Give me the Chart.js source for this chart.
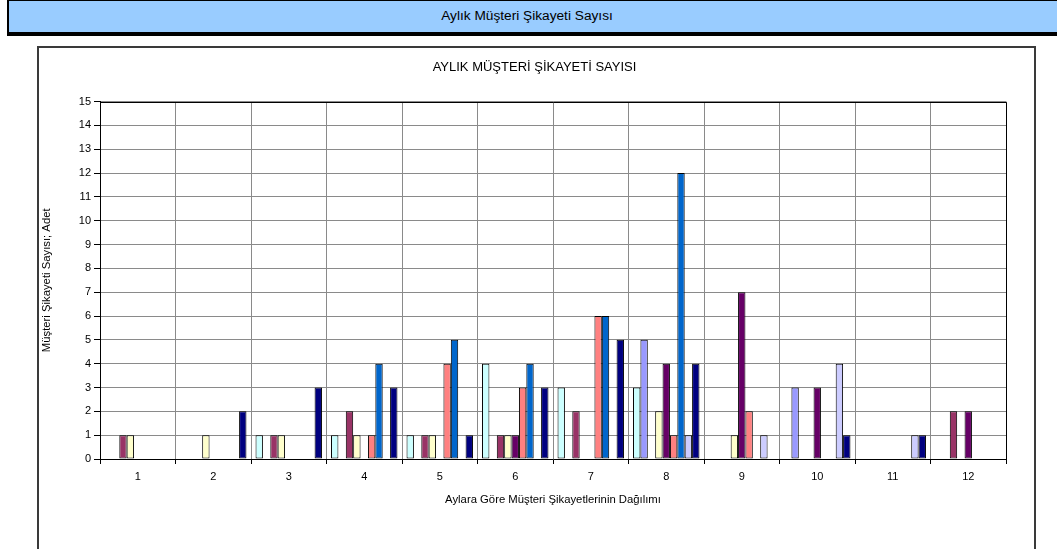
<!DOCTYPE html>
<html>
<head>
<meta charset="utf-8">
<script src="https://cdn.jsdelivr.net/npm/chart.js@4/dist/chart.umd.min.js"></script>
<style>
  html, body { margin: 0; padding: 0; background: #ffffff; }
  body { width: 1057px; height: 549px; position: relative; overflow: hidden; font-family: "Liberation Sans", Arial, sans-serif; }
  #hdr { position: absolute; left: 7px; top: 0px; width: 1060px; height: 31px; background: #99CCFF;
         border-left: 2px solid #000; border-top: 1px solid #000; border-bottom: 4px solid #000;
         box-sizing: content-box; font-size: 12px; color: #000; }
  #hdr span { position: absolute; left: 518px; top: 0; line-height: 31px; white-space: nowrap;
              transform: translateX(-50%) scaleX(1.14); }
  #box { position: absolute; left: 37px; top: 46px; width: 995px; height: 600px; border: 2px solid #3a3a3a; background: #fff; }
  #c { position: absolute; left: 0; top: 0; }
</style>
</head>
<body>
<div id="hdr"><span>Aylık Müşteri Şikayeti Sayısı</span></div>
<div id="box"></div>
<canvas id="c" width="1057" height="549"></canvas>
<script>
// Categories (months)
const months = ['1','2','3','4','5','6','7','8','9','10','11','12'];
// Series values (complaint counts per month)
const seri1 = [0,0,1,1,1,4,3,3,0,0,0,0];
const seri2 = [0,0,0,0,0,0,0,5,0,3,0,0];
const seri3 = [1,0,1,2,1,1,2,0,0,0,0,2];
const seri4 = [1,1,1,1,1,1,0,2,1,0,0,0];
const seri5 = [0,0,0,0,0,1,0,4,7,3,0,2];
const seri6 = [0,0,0,1,4,3,6,1,2,0,0,0];
const seri7 = [0,0,0,4,5,4,6,12,0,0,0,0];
const seri8 = [0,0,0,0,0,0,0,1,1,4,1,0];
const seri9 = [0,2,3,3,1,3,5,4,0,1,1,0];
const seriesNames = ['Seri 1','Seri 2','Seri 3','Seri 4','Seri 5','Seri 6','Seri 7','Seri 8','Seri 9'];
const seriesValues = [seri1, seri2, seri3, seri4, seri5, seri6, seri7, seri8, seri9];
const seriesColors = ['#CCFFFF','#9999FF','#993366','#FFFFCC','#660066','#FF8080','#0066CC','#CCCCFF','#000080'];
const yTicksMax = 15;

const FONT = '"Liberation Sans", Arial, sans-serif';

const plotBorder = {
  id: 'plotBorder',
  afterDatasetsDraw(chart) {
    const a = chart.chartArea, ctx = chart.ctx;
    ctx.save();
    ctx.strokeStyle = '#000';
    ctx.lineWidth = 1;
    ctx.beginPath();
    ctx.moveTo(Math.round(a.left) + 0.5, Math.round(a.top) + 0.5);
    ctx.lineTo(Math.round(a.right) + 0.5, Math.round(a.top) + 0.5);
    ctx.lineTo(Math.round(a.right) + 0.5, Math.round(a.bottom) + 0.5);
    ctx.stroke();
    ctx.restore();
  }
};

new Chart(document.getElementById('c'), {
  type: 'bar',
  data: {
    labels: months,
    datasets: seriesValues.map((v, i) => ({
      label: seriesNames[i],
      data: v,
      backgroundColor: seriesColors[i],
      borderColor: '#000',
      borderWidth: 1,
      borderSkipped: false,
      categoryPercentage: 0.88,
      barPercentage: 1.0
    }))
  },
  options: {
    responsive: false,
    animation: false,
    devicePixelRatio: 1,
    layout: { padding: { top: 46, left: 63, right: 51, bottom: 0 } },
    plugins: {
      legend: { display: false },
      tooltip: { enabled: false },
      title: {
        display: true,
        text: 'AYLIK MÜŞTERİ ŞİKAYETİ SAYISI',
        color: '#000',
        font: { family: FONT, size: 13, weight: 'normal' },
        padding: { top: 14, bottom: 26 }
      }
    },
    scales: {
      x: {
        grid: { color: '#8a8a8a', tickColor: '#000', tickLength: 5, offset: true },
        border: { color: '#000', width: 1 },
        ticks: { color: '#000', font: { family: FONT, size: 11 }, padding: 6, maxRotation: 0 },
        title: {
          display: true,
          text: 'Aylara Göre Müşteri Şikayetlerinin Dağılımı',
          color: '#000',
          font: { family: FONT, size: 11.3 },
          padding: { top: 0, bottom: 42 }
        },
        afterFit(scale) { scale.height = 90; }
      },
      y: {
        min: 0,
        max: yTicksMax,
        grid: { color: '#8a8a8a', tickColor: '#000', tickLength: 6 },
        border: { color: '#000', width: 1 },
        ticks: { stepSize: 1, color: '#000', font: { family: FONT, size: 11 }, padding: 3 },
        title: {
          display: true,
          text: 'Müşteri Şikayeti Sayısı; Adet',
          color: '#000',
          font: { family: FONT, size: 11.3 },
          padding: { top: -23, bottom: 0 }
        },
        afterFit(scale) { scale.width = 37; }
      }
    }
  },
  plugins: [plotBorder]
});
</script>
</body>
</html>
